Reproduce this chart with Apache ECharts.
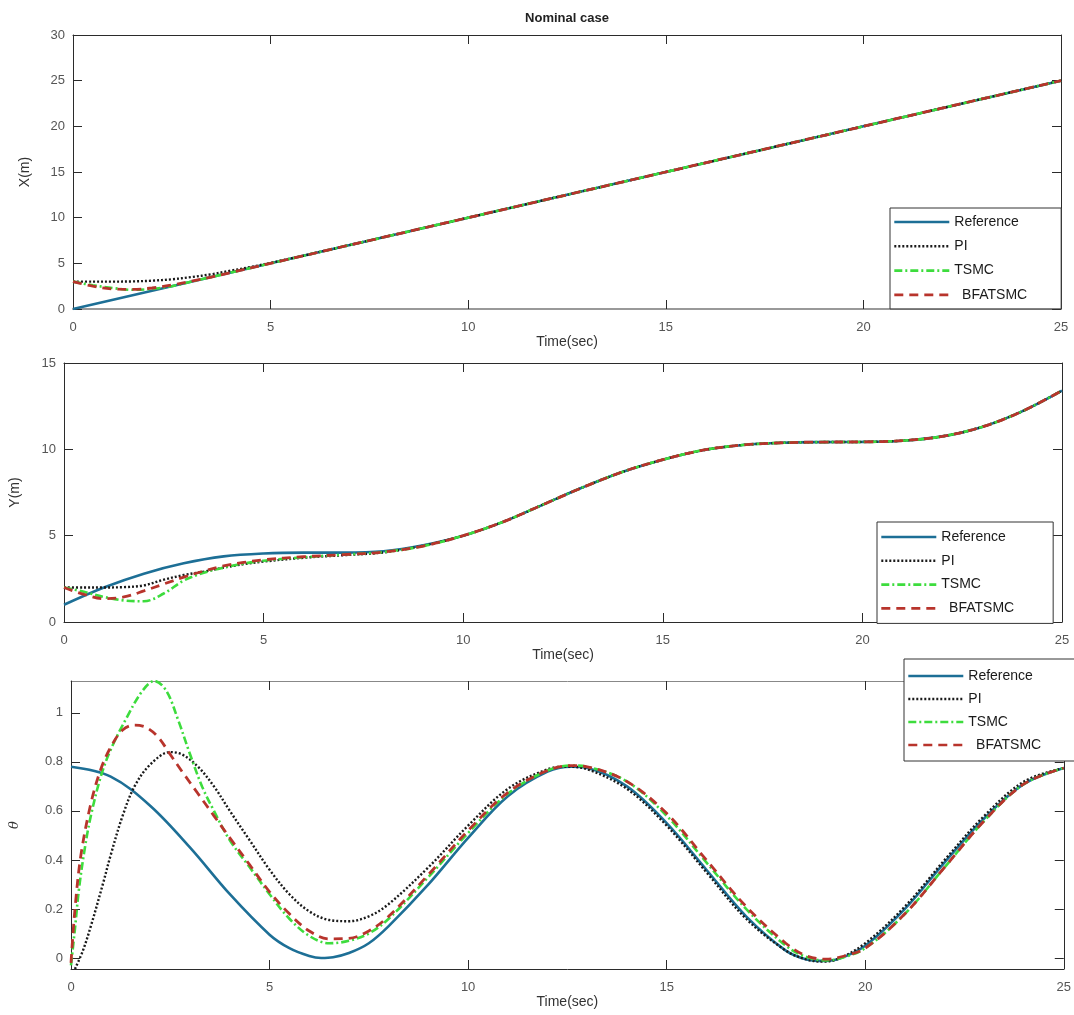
<!DOCTYPE html>
<html>
<head>
<meta charset="utf-8">
<title>Nominal case</title>
<script src="https://cdn.jsdelivr.net/npm/echarts@6/dist/echarts.min.js"></script>
<style>
  html, body { margin: 0; padding: 0; background: #fff; }
  #main { width: 1074px; height: 1015px; }
</style>
</head>
<body>
<div id="main"></div>
<script>
// series names (same in all three panels)
var names = ['Reference', 'PI', 'TSMC', 'BFATSMC'];

// time axis ticks
var timeTicks = [0, 5, 10, 15, 20, 25];
var thetaTicks = [0, 0.2, 0.4, 0.6, 0.8, 1];

// X(m) panel, [time, value]
var xRef = [[0, 0], [5, 5], [10, 10], [15, 15], [20, 20], [25, 25]];
var xPI = [[0, 3.0], [0.5, 3.0], [1, 3.0], [1.5, 3.02], [2, 3.1], [2.5, 3.25], [3, 3.5], [3.5, 3.8], [4, 4.2], [4.5, 4.6], [5, 5.05], [6, 6.0], [8, 8], [10, 10], [15, 15], [20, 20], [25, 25]];
var xTSMC = [[0, 3.0], [0.5, 2.6], [1, 2.3], [1.5, 2.1], [2, 2.2], [2.5, 2.5], [3, 3.0], [3.5, 3.5], [4, 4.0], [5, 5], [10, 10], [15, 15], [20, 20], [25, 25]];
var xBFA = [[0, 3.0], [0.5, 2.5], [1, 2.2], [1.5, 2.15], [2, 2.3], [2.5, 2.62], [3, 3.05], [3.5, 3.5], [4, 4.0], [5, 5], [10, 10], [15, 15], [20, 20], [25, 25]];

// Y(m) panel
var yRef = [[0, 1.0], [1, 2.0], [2, 2.8], [3, 3.4], [4, 3.8], [5, 3.97], [6, 4.02], [7, 4.02], [8, 4.1], [9, 4.45], [10, 5.0], [11, 5.8], [12, 6.8], [13, 7.8], [14, 8.7], [15, 9.4], [16, 9.95], [17, 10.25], [18, 10.38], [19, 10.42], [20, 10.43], [21, 10.5], [22, 10.75], [23, 11.3], [24, 12.2], [25, 13.4]];
var yPI = [[0, 2.0], [0.5, 2.0], [1, 2.0], [1.5, 2.02], [2, 2.12], [2.5, 2.45], [3, 2.72], [3.5, 2.92], [4, 3.15], [4.5, 3.35], [5, 3.5], [6, 3.72], [7, 3.87], [8, 4.03], [9, 4.42], [10, 5.0], [11, 5.8], [12, 6.8], [13, 7.8], [14, 8.7], [15, 9.4], [16, 9.95], [17, 10.25], [18, 10.38], [19, 10.42], [20, 10.43], [21, 10.5], [22, 10.75], [23, 11.3], [24, 12.2], [25, 13.4]];
var yTSMC = [[0, 2.0], [0.5, 1.75], [1, 1.45], [1.5, 1.25], [2, 1.2], [2.5, 1.65], [3, 2.4], [3.5, 2.85], [4, 3.15], [4.5, 3.38], [5, 3.55], [6, 3.75], [7, 3.9], [8, 4.05], [9, 4.4], [10, 5.0], [11, 5.8], [12, 6.8], [13, 7.8], [14, 8.7], [15, 9.4], [16, 9.95], [17, 10.25], [18, 10.38], [19, 10.42], [20, 10.43], [21, 10.5], [22, 10.75], [23, 11.3], [24, 12.2], [25, 13.4]];
var yBFA = [[0, 2.0], [0.5, 1.6], [1, 1.35], [1.5, 1.45], [2, 1.8], [2.5, 2.2], [3, 2.6], [3.5, 2.95], [4, 3.25], [4.5, 3.45], [5, 3.6], [6, 3.78], [7, 3.9], [8, 4.05], [9, 4.4], [10, 5.0], [11, 5.8], [12, 6.8], [13, 7.8], [14, 8.7], [15, 9.4], [16, 9.95], [17, 10.25], [18, 10.38], [19, 10.42], [20, 10.43], [21, 10.5], [22, 10.75], [23, 11.3], [24, 12.2], [25, 13.4]];

// theta panel
var thRef = [[0, 0.78], [1, 0.74], [2, 0.62], [3, 0.45], [4, 0.26], [5, 0.095], [5.5, 0.04], [6, 0.008], [6.3, 0.0], [6.6, 0.003], [7, 0.02], [7.5, 0.06], [8, 0.13], [9, 0.3], [10, 0.49], [11, 0.66], [12, 0.76], [12.6, 0.78], [13, 0.775], [14, 0.7], [15, 0.55], [16, 0.36], [17, 0.17], [18, 0.03], [18.5, -0.005], [18.9, -0.012], [19.3, -0.005], [20, 0.05], [21, 0.2], [22, 0.39], [23, 0.57], [24, 0.71], [25, 0.775]];
var thPI = [[0.1, -0.045], [0.3, 0.03], [0.5, 0.13], [0.8, 0.3], [1.0, 0.42], [1.3, 0.58], [1.6, 0.7], [2.0, 0.79], [2.5, 0.84], [2.8, 0.83], [3.2, 0.78], [3.6, 0.7], [4, 0.6], [4.5, 0.48], [5, 0.36], [5.5, 0.26], [6, 0.19], [6.5, 0.155], [7, 0.15], [7.5, 0.17], [8, 0.22], [9, 0.37], [10, 0.54], [11, 0.69], [12, 0.77], [12.5, 0.78], [13, 0.77], [14, 0.69], [15, 0.54], [16, 0.35], [17, 0.16], [18, 0.03], [18.5, -0.005], [18.9, -0.015], [19.3, -0.005], [20, 0.06], [21, 0.21], [22, 0.4], [23, 0.58], [24, 0.72], [25, 0.775]];
var thTSMC = [[0, -0.03], [0.1, 0.12], [0.2, 0.28], [0.35, 0.45], [0.5, 0.58], [0.75, 0.74], [1.0, 0.85], [1.4, 0.98], [1.8, 1.09], [2.1, 1.13], [2.4, 1.09], [2.7, 0.97], [3.0, 0.83], [3.3, 0.7], [3.6, 0.6], [4, 0.48], [4.5, 0.37], [5, 0.26], [5.5, 0.16], [6, 0.09], [6.5, 0.06], [7, 0.07], [7.5, 0.1], [8, 0.16], [9, 0.33], [10, 0.51], [11, 0.67], [12, 0.765], [12.6, 0.785], [13, 0.78], [14, 0.72], [15, 0.58], [16, 0.39], [17, 0.2], [18, 0.05], [18.5, 0.005], [19, -0.01], [19.4, 0.0], [20, 0.04], [21, 0.18], [22, 0.37], [23, 0.56], [24, 0.71], [25, 0.775]];
var thBFA = [[0, -0.02], [0.1, 0.2], [0.25, 0.42], [0.5, 0.63], [0.75, 0.77], [1.0, 0.86], [1.3, 0.93], [1.6, 0.95], [1.9, 0.94], [2.2, 0.9], [2.5, 0.83], [2.8, 0.76], [3.2, 0.67], [3.6, 0.58], [4, 0.49], [4.5, 0.38], [5, 0.27], [5.5, 0.18], [6, 0.11], [6.5, 0.078], [7, 0.08], [7.5, 0.11], [8, 0.17], [9, 0.34], [10, 0.52], [11, 0.675], [12, 0.765], [12.6, 0.785], [13, 0.78], [14, 0.72], [15, 0.59], [16, 0.4], [17, 0.21], [18, 0.06], [18.5, 0.01], [19, -0.005], [19.4, 0.005], [20, 0.04], [21, 0.18], [22, 0.37], [23, 0.56], [24, 0.71], [25, 0.775]];

var FONT = 'Liberation Sans';
var axisColor = '#2b2b2b';
var labelColor = '#555';

var styles = [
  { color: '#1d6f96', type: 'solid', width: 2.6 },
  { color: '#1a1a1a', type: [2, 2], width: 2.4 },
  { color: '#3ddc3d', type: [8, 3, 2, 3], width: 2.6 },
  { color: '#b8342c', type: [9, 6], width: 2.8 }
];

// panel layout
var panels = [
  { grid: { left: 73, right: 13, top: 35, height: 274 }, min: 0, max: 30, interval: 5, name: 'X(m)', nameGap: 41,
    data: [xRef, xPI, xTSMC, xBFA], bottomColor: '#999', bottomWidth: 2, topColor: axisColor,
    legend: { left: 890, top: 208, padding: [7, 34, 7, 3], itemGap: 10.3 } },
  { grid: { left: 62, right: 12, top: 363, height: 259 }, min: 0, max: 15, interval: 5, name: 'Y(m)', nameGap: 42,
    data: [yRef, yPI, yTSMC, yBFA], bottomColor: axisColor, bottomWidth: 1, topColor: axisColor,
    legend: { left: 877, top: 522, padding: [8, 39, 8, 3], itemGap: 9.8 } },
  { grid: { left: 68, right: 7, top: 681, height: 288 }, min: -0.045, max: 1.13, name: '\u03b8', nameGap: 50,
    data: [thRef, thPI, thTSMC, thBFA], bottomColor: axisColor, bottomWidth: 1, topColor: '#888', custom: thetaTicks,
    legend: { left: 904, top: 659, padding: [10, 60, 9, 3], itemGap: 9 } }
];

var grids = [], xAxes = [], yAxes = [], series = [], legends = [];

panels.forEach(function (p, i) {
  grids.push(p.grid);

  var xBase = {
    gridIndex: i, type: 'value', min: 0, max: 25, interval: 5,
    splitLine: { show: false },
    axisTick: { inside: true, length: 9, lineStyle: { color: axisColor } }
  };
  xAxes.push(Object.assign({}, xBase, {
    position: 'bottom',
    axisLine: { onZero: false, lineStyle: { color: p.bottomColor, width: p.bottomWidth } },
    axisLabel: { color: labelColor, fontSize: 13, fontFamily: FONT, margin: 12 },
    name: 'Time(sec)', nameLocation: 'middle', nameGap: 23,
    nameTextStyle: { color: '#333', fontSize: 14, fontFamily: FONT }
  }));
  xAxes.push(Object.assign({}, xBase, {
    position: 'top',
    axisLine: { onZero: false, lineStyle: { color: p.topColor } },
    axisLabel: { show: false }
  }));

  var yBase = {
    gridIndex: i, type: 'value', min: p.min, max: p.max,
    splitLine: { show: false },
    axisTick: { inside: true, length: 9, lineStyle: { color: axisColor } }
  };
  if (p.custom) {
    yBase.axisTick.customValues = p.custom;
  } else {
    yBase.interval = p.interval;
  }
  var yLeft = Object.assign({}, yBase, {
    position: 'left',
    axisLine: { show: true, onZero: false, lineStyle: { color: axisColor } },
    axisLabel: { color: labelColor, fontSize: 13, fontFamily: FONT, margin: 8 },
    name: p.name, nameLocation: 'middle', nameGap: p.nameGap, nameRotate: 90,
    nameTextStyle: { color: '#333', fontSize: p.custom ? 13 : 14, fontFamily: p.custom ? 'DejaVu Serif' : FONT, fontStyle: p.custom ? 'italic' : 'normal' }
  });
  if (p.custom) {
    yLeft.axisLabel.customValues = p.custom;
  }
  yAxes.push(yLeft);
  yAxes.push(Object.assign({}, yBase, {
    position: 'right',
    axisLine: { show: true, onZero: false, lineStyle: { color: axisColor } },
    axisLabel: { show: false }
  }));

  p.data.forEach(function (d, k) {
    series.push({
      name: names[k], type: 'line', xAxisIndex: 2 * i, yAxisIndex: 2 * i,
      data: d, smooth: 0.35, showSymbol: false, symbol: 'none',
      lineStyle: styles[k], itemStyle: { color: styles[k].color },
      z: 2 + k
    });
  });

  legends.push({
    orient: 'vertical', left: p.legend.left, top: p.legend.top,
    padding: p.legend.padding, itemGap: p.legend.itemGap,
    itemWidth: 55, itemHeight: 14,
    data: names, selectedMode: false,
    // hide the marker circle, keep only the line sample
    itemStyle: { color: 'rgba(0,0,0,0)', borderWidth: 0, opacity: 0 },
    lineStyle: { width: 2.6 },
    backgroundColor: '#fff', borderColor: '#333', borderWidth: 1,
    textStyle: { fontSize: 14, fontFamily: FONT, color: '#1a1a1a' },
    formatter: function (n) { return n === 'BFATSMC' ? '  BFATSMC' : n; }
  });
});

var chart = echarts.init(document.getElementById('main'));
chart.setOption({
  animation: false,
  backgroundColor: '#fff',
  grid: grids,
  xAxis: xAxes,
  yAxis: yAxes,
  legend: legends,
  series: series,
  graphic: [{
    type: 'text', x: 567, y: 18,
    style: { text: 'Nominal case', textAlign: 'center', textVerticalAlign: 'middle', font: 'bold 13px "Liberation Sans"', fill: '#222' }
  }]
});
</script>
</body>
</html>
